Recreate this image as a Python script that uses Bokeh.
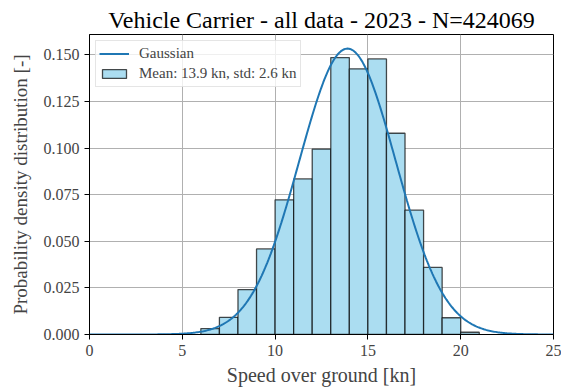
import numpy as np
from bokeh.plotting import figure
from bokeh.models import (ColumnDataSource, FixedTicker, PrintfTickFormatter,
                          Legend, LegendItem, Range1d)
from bokeh.embed import file_html
from bokeh.resources import INLINE

# Histogram data (bin edges in knots, density values)
bin_left = [6, 7, 8, 9, 10, 11, 12, 13, 14, 15, 16, 17, 18, 19, 20]
bin_right = [7, 8, 9, 10, 11, 12, 13, 14, 15, 16, 17, 18, 19, 20, 21]
density = [0.0032, 0.0092, 0.0241, 0.0459, 0.0723, 0.0835, 0.0995, 0.1486,
           0.1426, 0.1479, 0.1080, 0.0667, 0.0360, 0.0090, 0.0012]

# Gaussian parameters (from the legend)
MEAN = 13.9
STD = 2.6

x_ticks = [0, 5, 10, 15, 20, 25]
y_ticks = [0.0, 0.025, 0.05, 0.075, 0.1, 0.125, 0.15]

FONT = "Liberation Serif"

xs = np.linspace(0, 25, 400)
ys = np.exp(-0.5 * ((xs - MEAN) / STD) ** 2) / (STD * np.sqrt(2 * np.pi))

p = figure(width=561, height=388, output_backend="svg", toolbar_location=None,
           x_range=Range1d(0, 25), y_range=Range1d(0, 0.161),
           min_border_left=89, min_border_right=8, min_border_bottom=52,
           min_border_top=34,
           title="Vehicle Carrier - all data - 2023 - N=424069")

p.title.text_font = FONT
p.title.text_font_size = "24px"
p.title.text_font_style = "normal"
p.title.align = "center"
p.title.text_color = "black"
p.title.standoff = 4

hist_src = ColumnDataSource(dict(left=bin_left, right=bin_right, top=density,
                                 bottom=[0] * len(density)))
bars = p.quad(left="left", right="right", top="top", bottom="bottom", source=hist_src,
              fill_color="#abddf1", line_color="black", line_alpha=0.7, line_width=1.3)

line = p.line(xs, ys, line_color="#1f77b4", line_width=2)

legend = Legend(items=[LegendItem(label="Gaussian", renderers=[line]),
                       LegendItem(label="Mean: 13.9 kn, std: 2.6 kn", renderers=[bars])],
                location="top_left")
legend.label_text_font = FONT
legend.label_text_font_size = "15px"
legend.border_line_color = "#cccccc"
legend.border_line_width = 1
legend.background_fill_alpha = 0.8
legend.glyph_width = 30
legend.glyph_height = 11
legend.label_height = 19
legend.spacing = 1
legend.padding = 3
legend.margin = 6
legend.label_standoff = 10
p.add_layout(legend)

p.xaxis.ticker = FixedTicker(ticks=x_ticks)
p.yaxis.ticker = FixedTicker(ticks=y_ticks)
p.yaxis.formatter = PrintfTickFormatter(format="%.3f")
p.xaxis.axis_label = "Speed over ground [kn]"
p.yaxis.axis_label = "Probability density distribution [-]"
p.xaxis.axis_label_text_font_size = "20px"
p.yaxis.axis_label_text_font_size = "19px"
for ax in (p.xaxis, p.yaxis):
    ax.axis_label_text_font = FONT
    ax.axis_label_text_font_style = "normal"
    ax.major_label_text_font = FONT
    ax.major_label_text_font_size = "16px"
    ax.major_tick_out = 5
    ax.major_tick_in = 0
    ax.minor_tick_out = 0
    ax.minor_tick_in = 0
    ax.axis_line_color = "black"
    ax.major_tick_line_color = "black"
p.xaxis.axis_label_standoff = 5
p.yaxis.axis_label_standoff = 10

p.xgrid.grid_line_color = "#b0b0b0"
p.ygrid.grid_line_color = "#b0b0b0"
p.xgrid.grid_line_width = 1
p.ygrid.grid_line_width = 1
p.outline_line_color = "black"
p.outline_line_width = 1
p.background_fill_color = "white"

open("out.html", "w").write(file_html(p, INLINE))
